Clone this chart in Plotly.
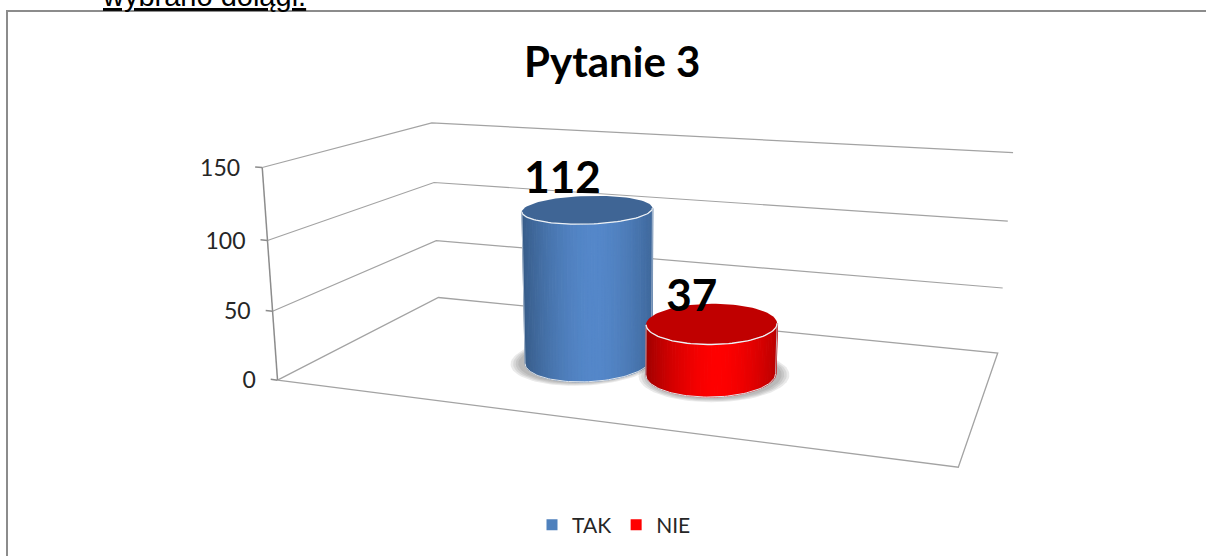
import numpy as np
import plotly.graph_objects as go

categories = ["TAK", "NIE"]
values = [112, 37]
z_ticks = [0, 50, 100, 150]
z_max = 150
title = "Pytanie 3"
page_text = "wybrano dolągi."

face_centre = ["#5588ca", "#ff0000"]
face_edge = ["#385d8a", "#a00000"]
top_fill = ["#3f6595", "#c00000"]
legend_colors = ["#4f81bd", "#ff0000"]
grid_color = "#a3a3a3"
axis_color = "#8c8c8c"

W, H = 1206, 556

# box corners (x, depth, height) -> where they sit on the page, used to solve the camera
box_world = [(0, 0, 0), (0, 1, 0), (1, 1, 0), (1, 0, 0), (0, 0, 1), (0, 1, 1), (1, 1, 1)]
box_page = [(278, 380), (438, 298), (998, 352), (958, 468), (262, 167), (432, 123), (1013, 153)]


def solve_camera(world, page):
    rows = []
    for (x, y, z), (u, v) in zip(world, page):
        rows.append([x, y, z, 1, 0, 0, 0, 0, -u * x, -u * y, -u * z, -u])
        rows.append([0, 0, 0, 0, x, y, z, 1, -v * x, -v * y, -v * z, -v])
    return np.linalg.svd(np.array(rows, dtype=float))[2][-1].reshape(3, 4)


cam = solve_camera(box_world, box_page)


def project(x, y, z):
    x, y, z = np.broadcast_arrays(np.asarray(x, float), np.asarray(y, float), np.asarray(z, float))
    pts = np.stack([x, y, z, np.ones_like(x)])
    u, v, w = np.tensordot(cam, pts, axes=1)
    return u / w, v / w


def mix(a, b, t):
    a = [int(a[i:i + 2], 16) for i in (1, 3, 5)]
    b = [int(b[i:i + 2], 16) for i in (1, 3, 5)]
    return "rgb(%d,%d,%d)" % tuple(a[i] + (b[i] - a[i]) * t for i in range(3))


fig = go.Figure()


def line(xs, ys, color, width=1.2):
    fig.add_trace(go.Scatter(x=xs, y=ys, mode="lines", line=dict(color=color, width=width),
                             hoverinfo="skip", showlegend=False))


def poly(xs, ys, color, edge=None):
    fig.add_trace(go.Scatter(x=xs, y=ys, mode="lines", fill="toself", fillcolor=color,
                             line=dict(color=edge or color, width=0.6 if edge else 0),
                             hoverinfo="skip", showlegend=False))


# frame of the chart object, it runs off the page on the right and the bottom
line([7, 7, W + 5], [H + 5, 11, 11], axis_color, 2)

# floor
fx, fy = project([0, 1, 1, 0, 0], [0, 0, 1, 1, 0], 0)
line(fx, fy, grid_color, 1.3)

# gridlines on the two walls
for t in z_ticks:
    zt = t / z_max
    if t > 0:
        gx, gy = project([0, 0, 1], [0, 1, 1], zt)
        line(gx, gy, grid_color, 1.2)
    tx, ty = project([-0.012, 0], [0, 0], zt)
    line(tx, ty, axis_color, 1.5)
    fig.add_trace(go.Scatter(x=[tx[0] - 15], y=[ty[0] + 3], mode="text", text=[str(t)],
                             textposition="middle left", hoverinfo="skip", showlegend=False,
                             textfont=dict(family="Lato", size=23, color="#262626")))

ax, ay = project([0, 0], [0, 0], [0, 1])
line(ax, ay, axis_color, 1.5)

# cylinders
rx, ry = 0.097, 0.22
centres = [0.4, 0.6]
label_shift = [(-25, -27), (-20, -23)]
labels = []
for i, val in enumerate(values):
    cx, cy = centres[i], 0.5
    ztop = val / z_max

    # soft shadow on the floor
    theta = np.linspace(0, 2 * np.pi, 90)
    shadow_dx = -0.006 if i == 0 else 0.006
    for s in [1.16, 1.12, 1.08, 1.04]:
        sx, sy = project(cx + shadow_dx + rx * s * np.cos(theta), cy - 0.005 + ry * s * np.sin(theta), 0)
        poly(sx, sy, "rgba(90,90,90,0.13)")

    # visible half of the side, between the two silhouette angles
    sweep = np.linspace(-np.pi - 0.6, 0.6, 400)
    bx, by = project(cx + rx * np.cos(sweep), cy + ry * np.sin(sweep), 0)
    sweep = sweep[np.argmin(bx):np.argmax(bx) + 1]
    sweep = sweep[np.linspace(0, len(sweep) - 1, 61).astype(int)]
    bx, by = project(cx + rx * np.cos(sweep), cy + ry * np.sin(sweep), 0)
    tx, ty = project(cx + rx * np.cos(sweep), cy + ry * np.sin(sweep), ztop)
    for j in range(len(sweep) - 1):
        t = ((bx[j] + bx[j + 1]) / 2 - bx[0]) / (bx[-1] - bx[0])
        shade = min(1, max(0, 1 - (abs(t - 0.55) / 0.55) ** 1.7))
        c = mix(face_edge[i], face_centre[i], shade)
        poly([bx[j], bx[j + 1] + 0.5, tx[j + 1] + 0.5, tx[j], bx[j]],
             [by[j], by[j + 1], ty[j + 1], ty[j], by[j]], c, c)

    # lid and the thin light rim
    lx, ly = project(cx + rx * np.cos(theta), cy + ry * np.sin(theta), ztop)
    poly(lx, ly, top_fill[i])
    line(tx, ty, "#eef2f6", 1.3)
    line(bx, by, "#dfe4ea", 1)
    line([bx[0], tx[0]], [by[0], ty[0]], "#c9d3df", 0.8)
    line([bx[-1], tx[-1]], [by[-1], ty[-1]], "#c9d3df", 0.8)

    px, py = project(cx, cy, ztop)
    labels.append((px + label_shift[i][0], py + label_shift[i][1]))

for (lx, ly), val in zip(labels, values):
    fig.add_trace(go.Scatter(x=[lx], y=[ly], mode="text", text=[str(val)], textposition="middle center",
                             hoverinfo="skip", showlegend=False,
                             textfont=dict(family="Lato", size=44, color="#000000", weight="bold")))

# legend entries
for name, color in zip(categories, legend_colors):
    fig.add_trace(go.Scatter(x=[None], y=[None], mode="markers", name=name,
                             marker=dict(symbol="square", size=11, color=color)))

fig.add_annotation(x=612, y=61, xref="x", yref="y", text="<b>" + title + "</b>", showarrow=False,
                   font=dict(family="Lato", size=42, color="#000000"))
# cut off by the page edge in the original too
fig.add_annotation(x=100 / W, y=1 - 14 / H, xref="paper", yref="paper", text="<u>" + page_text + "</u>",
                   showarrow=False, xanchor="left", yanchor="bottom",
                   font=dict(family="Liberation Sans", size=29, color="#000000"))

fig.update_layout(
    width=W, height=H,
    margin=dict(l=0, r=0, t=0, b=0),
    paper_bgcolor="white", plot_bgcolor="white",
    xaxis=dict(range=[0, W], visible=False, fixedrange=True),
    yaxis=dict(range=[H, 0], visible=False, fixedrange=True),
    showlegend=True,
    legend=dict(orientation="h", x=614 / W, y=1 - 525 / H, xanchor="center", yanchor="middle",
                font=dict(family="Lato", size=21, color="#262626"), bgcolor="rgba(0,0,0,0)"),
)

fig.write_html("out.html", config=dict(displayModeBar=False),
               post_script="document.body.style.margin='0';document.body.style.overflow='hidden';")
